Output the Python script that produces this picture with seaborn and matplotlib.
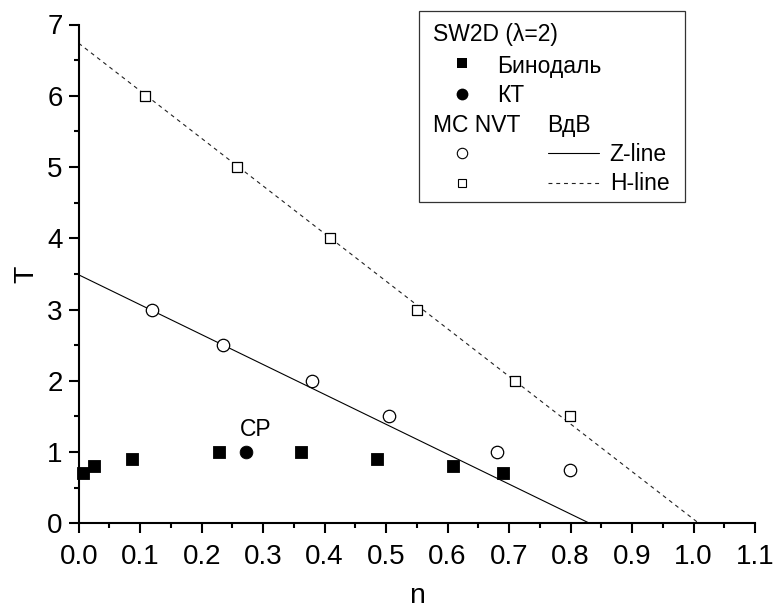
import matplotlib
matplotlib.use("Agg")
import matplotlib.pyplot as plt
from matplotlib.lines import Line2D
from matplotlib.patches import Rectangle
from matplotlib.ticker import MultipleLocator, FormatStrFormatter
import seaborn as sns

# Binodal of the 2D square-well fluid
binodal_n = [0.0075, 0.025, 0.086, 0.229, 0.3615, 0.4845, 0.609, 0.690]
binodal_T = [0.7, 0.8, 0.9, 1.0, 1.0, 0.9, 0.8, 0.7]

# Critical point
cp_n = [0.2715]
cp_T = [1.0]

# MC NVT: Z = 1 points and H points
mc_z_n = [0.120, 0.234, 0.380, 0.505, 0.680, 0.799]
mc_z_T = [3.0, 2.5, 2.0, 1.5, 1.0, 0.75]
mc_h_n = [0.108, 0.258, 0.409, 0.550, 0.710, 0.799]
mc_h_T = [6.0, 5.0, 4.0, 3.0, 2.0, 1.5]

# van der Waals straight lines (end points)
z_line_n = [0.0, 0.831]
z_line_T = [3.487, 0.0]
h_line_n = [0.0, 1.0087]
h_line_T = [6.737, 0.0]

sns.set_theme(style="ticks")
plt.rcParams["font.family"] = ["Liberation Sans", "DejaVu Sans"]

W, H = 774, 610
fig = plt.figure(figsize=(W / 100, H / 100), dpi=100)
ax = fig.add_axes([78.7 / W, 1 - 523.3 / H, (755 - 78.7) / W, (523.3 - 24.5) / H])

sns.lineplot(x=z_line_n, y=z_line_T, ax=ax, color="black", linewidth=0.8,
             sort=False, estimator=None)
sns.lineplot(x=h_line_n, y=h_line_T, ax=ax, color="#222222", linewidth=0.8,
             linestyle=(0, (3.5, 3.5)), sort=False, estimator=None)

sns.scatterplot(x=binodal_n, y=binodal_T, ax=ax, marker="s", color="black",
                s=70, linewidth=0.6, edgecolor="black", clip_on=False, zorder=4)
sns.scatterplot(x=cp_n, y=cp_T, ax=ax, marker="o", color="black",
                s=84, linewidth=0.6, edgecolor="black", clip_on=False, zorder=4)
sns.scatterplot(x=mc_z_n, y=mc_z_T, ax=ax, marker="o", facecolor="white",
                edgecolor="black", s=80, linewidth=0.9, zorder=4)
sns.scatterplot(x=mc_h_n, y=mc_h_T, ax=ax, marker="s", facecolor="white",
                edgecolor="black", s=58, linewidth=0.9, zorder=4)

ax.annotate("CP", xy=(cp_n[0], cp_T[0]), xytext=(7, 16),
            textcoords="offset points", ha="center", va="center",
            fontsize=16.5, color="black")

ax.set_xlim(0, 1.1)
ax.set_ylim(0, 7)
ax.xaxis.set_major_locator(MultipleLocator(0.1))
ax.xaxis.set_minor_locator(MultipleLocator(0.05))
ax.yaxis.set_major_locator(MultipleLocator(1))
ax.yaxis.set_minor_locator(MultipleLocator(0.5))
ax.xaxis.set_major_formatter(FormatStrFormatter("%.1f"))
ax.yaxis.set_major_formatter(FormatStrFormatter("%d"))

for side in ("top", "right"):
    ax.spines[side].set_visible(False)
for side in ("left", "bottom"):
    ax.spines[side].set_linewidth(1.5)
    ax.spines[side].set_color("black")

ax.tick_params(axis="both", which="major", direction="out", length=7,
               width=1.5, color="black", labelsize=20, labelcolor="black")
ax.tick_params(axis="both", which="minor", direction="out", length=3.6,
               width=1.5, color="black")
ax.tick_params(axis="x", which="major", pad=8)
ax.tick_params(axis="y", which="major", pad=4.5)

ax.set_xlabel("n", fontsize=20.5, va="center", color="black")
ax.set_ylabel("T", fontsize=20.5, va="center", color="black")
ax.xaxis.set_label_coords(0.5, (523.3 - 596) / 498.8)
ax.yaxis.set_label_coords((26.7 - 78.7) / 676.3, 0.5)


# Legend box drawn in pixel coordinates of the figure
def fx(px):
    return px / W


def fy(py):
    return 1 - py / H


fig.add_artist(Rectangle((fx(419), fy(202.3)), fx(685) - fx(419),
                         fy(10.7) - fy(202.3), transform=fig.transFigure,
                         facecolor="white", edgecolor="#333333",
                         linewidth=0.9, zorder=5))

legend_fs = 16.5
txt = dict(fontsize=legend_fs, va="baseline", ha="left", color="black", zorder=6)
fig.text(fx(433), fy(40.7), "SW2D (λ=2)", **txt)
fig.text(fx(497), fy(72.7), "Бинодаль", **txt)
fig.text(fx(497), fy(101.7), "КТ", **txt)
fig.text(fx(433), fy(131.7), "MC NVT", **txt)
fig.text(fx(547), fy(131.7), "ВдВ", **txt)
fig.text(fx(609), fy(160.7), "Z-line", **txt)
fig.text(fx(610), fy(190), "H-line", **txt)

fig.add_artist(Line2D([fx(462)], [fy(63.3)], marker="s", ms=7.5,
                      color="black", mew=0, transform=fig.transFigure, zorder=6))
fig.add_artist(Line2D([fx(462)], [fy(94.3)], marker="o", ms=8.5,
                      color="black", mew=0, transform=fig.transFigure, zorder=6))
fig.add_artist(Line2D([fx(462)], [fy(153.3)], marker="o", ms=7.5,
                      mfc="white", mec="black", mew=0.8,
                      transform=fig.transFigure, zorder=6))
fig.add_artist(Line2D([fx(462)], [fy(182.7)], marker="s", ms=6.3,
                      mfc="white", mec="black", mew=0.8,
                      transform=fig.transFigure, zorder=6))
fig.add_artist(Line2D([fx(548), fx(599)], [fy(153.3), fy(153.3)],
                      color="black", lw=0.8, transform=fig.transFigure, zorder=6))
fig.add_artist(Line2D([fx(548), fx(599)], [fy(183.3), fy(183.3)],
                      color="#222222", lw=0.8, linestyle=(0, (3.5, 3.5)),
                      transform=fig.transFigure, zorder=6))

fig.savefig("out.png", dpi=100)
